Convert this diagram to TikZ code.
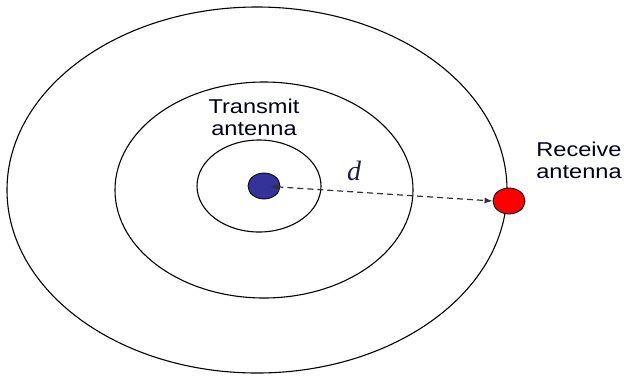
\documentclass[tikz,border=0pt]{standalone}
\usepackage{fontspec}
\setmainfont{Liberation Sans}
\newfontfamily\serifit{Liberation Serif}
\usetikzlibrary{shapes.geometric,arrows.meta}
\begin{document}
\begin{tikzpicture}[x=1pt,y=-1pt,
  ring/.style={draw=black,line width=1.1pt},
  dot/.style={ellipse,draw=black,line width=0.8pt,minimum width=32pt,minimum height=26pt,inner sep=0pt},
  lbl/.style={align=center,font=\fontsize{20}{22}\selectfont,text=black!90!blue,xscale=1.18,transform shape,inner sep=0pt},
  link/.style={draw=black!80,line width=1.2pt,dash pattern=on 6pt off 4pt,{Latex[length=8pt,width=6pt]}-{Latex[length=8pt,width=6pt]}}]
\useasboundingbox (0,0) rectangle (624,376);
\coordinate (c1) at (257,190);
\coordinate (c2) at (264,190);
\coordinate (c3) at (259,186);
\draw[ring] (c1) ellipse [x radius=250, y radius=183];
\draw[ring] (c2) ellipse [x radius=149, y radius=108];
\draw[ring] (c3) ellipse [x radius=62, y radius=46];
\node[dot,fill={rgb,255:red,51;green,51;blue,153}] (tx) at (264,186) {};
\node[dot,fill={rgb,255:red,255;green,0;blue,0}] (rx) at (509,201) {};
\node[lbl] (tl) at (254,117) {Transmit\\antenna};
\node[lbl] (rl) at (579,160) {Receive\\antenna};
\node[font=\serifit\itshape\fontsize{28}{30}\selectfont,text={rgb,255:red,30;green,30;blue,70},inner sep=0pt] (d) at (354,171) {d};
\draw[link,shorten <=6pt] (tx.center) -- (rx.west);
\end{tikzpicture}
\end{document}
